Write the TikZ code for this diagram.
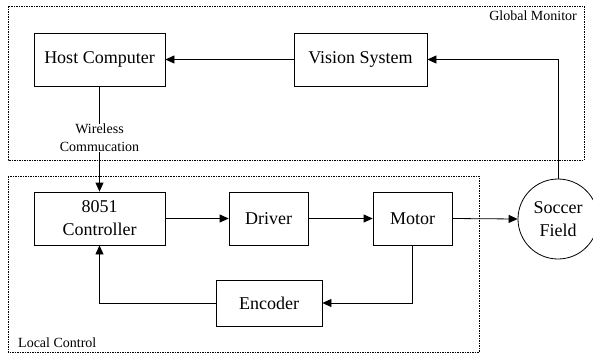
\documentclass[tikz,border=0pt]{standalone}
\usepackage{fontspec}
\setmainfont{Liberation Serif}
\usetikzlibrary{arrows.meta,positioning}
\begin{document}
\begin{tikzpicture}[x=1pt,y=-1pt,
  block/.style={draw,line width=0.8pt,inner sep=0pt,align=center,font=\fontsize{18}{23}\selectfont},
  region/.style={draw,line width=0.6pt,dash pattern=on 1.5pt off 1pt},
  tag/.style={inner sep=0pt,font=\fontsize{14}{18}\selectfont,align=center},
  flow/.style={line width=0.8pt,-{Triangle[length=9pt,width=8pt]}},
  link/.style={line width=0.8pt}]
\useasboundingbox (0,0) rectangle (593,354);

% dotted grouping frames
\draw[region] (8,6) rectangle (584,160);
\draw[region] (8,176) rectangle (479,352);
\node[tag,anchor=north east] (gm) at (577,11) {Global Monitor};
\node[tag,anchor=south west] (lc) at (18,348) {Local Control};

% blocks
\node[block,minimum width=131pt,minimum height=53pt] (host) at (99.5,59.5) {Host Computer};
\node[block,minimum width=133pt,minimum height=53pt] (vision) at (360.5,59.5) {Vision System};
\node[block,minimum width=131pt,minimum height=53pt] (ctrl) at (99.5,218.5) {8051\\Controller};
\node[block,minimum width=79pt,minimum height=53pt] (driver) at (268.5,218.5) {Driver};
\node[block,minimum width=79pt,minimum height=53pt] (motor) at (412.5,218.5) {Motor};
\node[block,minimum width=106pt,minimum height=46pt] (enc) at (269,303) {Encoder};
\node[block,circle,minimum size=80pt] (field) at (558,219) {Soccer\\Field};

% wireless link label
\node[tag] (wl) at (99.5,138) {Wireless\\Commucation};

% connectors
\draw[flow] (vision.west) -- (host.east);
\draw[flow] (field.north) |- (vision.east);
\draw[link] (host.south) -- (wl.north);
\draw[flow] (wl.south) -- (ctrl.north);
\draw[flow] (ctrl.east) -- (driver.west);
\draw[flow] (driver.east) -- (motor.west);
\draw[flow] (motor.east) -- (field.west);
\draw[flow] (motor.south) |- (enc.east);
\draw[flow] (enc.west) -| (ctrl.south);
\end{tikzpicture}
\end{document}
